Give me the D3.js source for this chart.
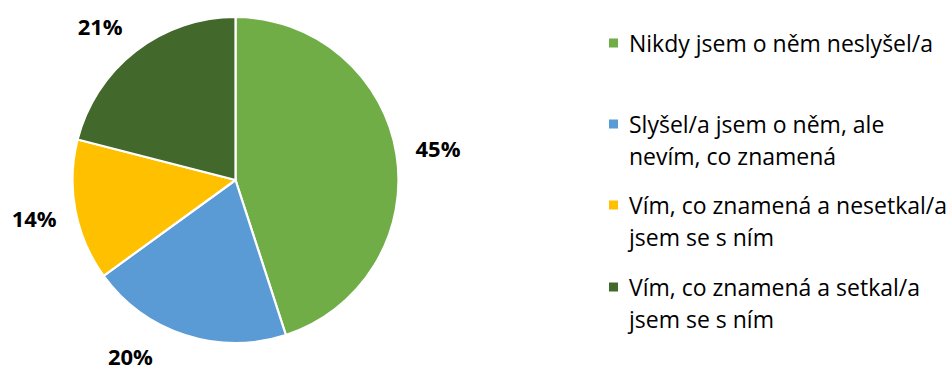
<!DOCTYPE html>
<html>
<head>
<meta charset="utf-8">
<script src="https://cdn.jsdelivr.net/npm/d3@7"></script>
<style>
  html, body { margin: 0; padding: 0; background: #fff; }
  svg { display: block; }
</style>
</head>
<body>
<svg id="chart" width="952" height="372"></svg>
<script>
// Survey answers and their shares (percent)
const categories = [
  "Nikdy jsem o něm neslyšel/a",
  "Slyšel/a jsem o něm, ale nevím, co znamená",
  "Vím, co znamená a nesetkal/a jsem se s ním",
  "Vím, co znamená a setkal/a jsem se s ním"
];
const values = [45, 20, 14, 21];
const colors = ["#70AD47", "#5B9BD5", "#FFC000", "#43682B"];
// Legend entries broken into lines
const legendLines = [
  ["Nikdy jsem o něm neslyšel/a"],
  ["Slyšel/a jsem o něm, ale", "nevím, co znamená"],
  ["Vím, co znamená a nesetkal/a", "jsem se s ním"],
  ["Vím, co znamená a setkal/a", "jsem se s ním"]
];

const FONT = "'Open Sans', sans-serif";
const W = 952, H = 372;
const svg = d3.select("#chart");

const cx = 235.5, cy = 180, radius = 163, labelRadius = 205;
// vertical band (canvas coords) the value labels' centres must stay within
const labelTop = 26, labelBottom = 356;

const pie = d3.pie().sort(null).value(d => d)(values);
const arc = d3.arc().innerRadius(0).outerRadius(radius);
const labelArc = d3.arc().innerRadius(labelRadius).outerRadius(labelRadius);

const g = svg.append("g").attr("transform", `translate(${cx},${cy})`);

g.selectAll("path.slice")
  .data(pie)
  .join("path")
  .attr("class", "slice")
  .attr("d", arc)
  .attr("fill", (d, i) => colors[i])
  .attr("stroke", "#fff")
  .attr("stroke-width", 2.2)
  .attr("stroke-linejoin", "round");

// Label position: centroid on the label circle, slid along it when it
// would leave the canvas vertically.
function labelPos(d) {
  let [x, y] = labelArc.centroid(d);
  const minY = labelTop - cy, maxY = labelBottom - cy;
  if (y < minY || y > maxY) {
    y = Math.max(minY, Math.min(maxY, y));
    x = Math.sign(x) * Math.sqrt(Math.max(0, labelRadius * labelRadius - y * y));
  }
  return [x, y];
}

g.selectAll("text.pct")
  .data(pie)
  .join("text")
  .attr("class", "pct")
  .attr("transform", d => `translate(${labelPos(d)})`)
  .attr("text-anchor", "middle")
  .attr("dominant-baseline", "central")
  .attr("font-family", FONT)
  .attr("font-weight", "bold")
  .attr("font-size", 22)
  .attr("fill", "#000")
  .text(d => d.value + "%");

// Legend
const legendX = 609, textX = 629, swatch = 9;
const itemY = [43, 124, 205, 287];
const lineH = 32;

const legend = svg.append("g");
const items = legend.selectAll("g.item")
  .data(categories)
  .join("g")
  .attr("class", "item")
  .attr("transform", (d, i) => `translate(0,${itemY[i]})`);

items.append("rect")
  .attr("x", legendX)
  .attr("y", -swatch / 2)
  .attr("width", swatch)
  .attr("height", swatch)
  .attr("fill", (d, i) => colors[i]);

items.each(function(d, i) {
  const t = d3.select(this).append("text")
    .attr("font-family", FONT)
    .attr("font-size", 23)
    .attr("fill", "#000");
  legendLines[i].forEach((line, j) => {
    t.append("tspan")
      .attr("x", textX)
      .attr("y", j * lineH)
      .attr("dominant-baseline", "central")
      .text(line);
  });
});
</script>
</body>
</html>
